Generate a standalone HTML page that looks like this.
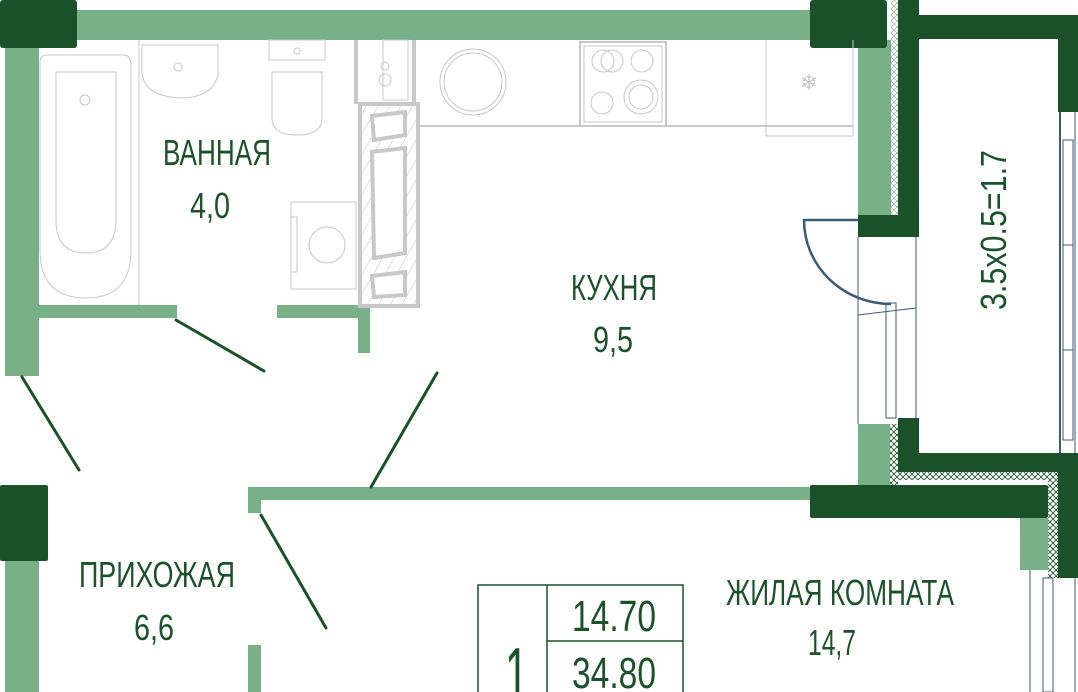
<!DOCTYPE html>
<html><head><meta charset="utf-8"><style>
html,body{margin:0;padding:0;background:#fff;}
svg{display:block;}
text{font-family:"Liberation Sans Narrow","Liberation Sans",sans-serif;fill:#1c5229;}
</style></head><body>
<svg width="1078" height="692" viewBox="0 0 1078 692" xmlns="http://www.w3.org/2000/svg">
<defs>
<pattern id="hx" width="6" height="6" patternUnits="userSpaceOnUse">
<rect width="6" height="6" fill="#fff"/>
<path d="M0,0 L6,6 M6,0 L0,6" stroke="#1b5129" stroke-width="0.8"/>
</pattern>
<pattern id="hx2" width="6" height="6" patternUnits="userSpaceOnUse">
<rect width="6" height="6" fill="#fff"/>
<path d="M0,0 L6,6 M6,0 L0,6" stroke="#8aa590" stroke-width="0.6"/>
</pattern>
<pattern id="hg" width="10" height="10" patternUnits="userSpaceOnUse" patternTransform="rotate(30)">
<rect width="10" height="10" fill="#fff"/>
<path d="M0,0 L0,10" stroke="#c8c8c8" stroke-width="1.2"/>
</pattern>
</defs>
<g fill="#78b088">
<rect x="0" y="10" width="812" height="30"/>
<rect x="5" y="40" width="34" height="336"/>
<rect x="39" y="305" width="138" height="13"/>
<rect x="277" y="305" width="93" height="13"/>
<rect x="358" y="305" width="12" height="48"/>
<rect x="5" y="561" width="34" height="131"/>
<rect x="248" y="487" width="564" height="13"/>
<rect x="248" y="487" width="13" height="26"/>
<rect x="248" y="645" width="13" height="47"/>
<rect x="858" y="40" width="35" height="178"/>
<rect x="858" y="424" width="32" height="62"/>
<rect x="1020" y="518" width="30" height="52"/>
</g>
<g>
<rect x="891" y="0" width="7" height="215" fill="url(#hx2)"/>
<rect x="890" y="424" width="8" height="62" fill="url(#hx)"/>
<rect x="898" y="472" width="160" height="8" fill="url(#hx)"/>
<rect x="1048" y="472" width="10" height="106" fill="url(#hx)"/>
</g>
<g fill="#1b5129">
<rect x="0" y="0" width="77" height="48" rx="3"/>
<rect x="810" y="0" width="77" height="48" rx="3"/>
<rect x="898" y="0" width="21" height="237"/>
<rect x="898" y="15" width="180" height="24"/>
<rect x="1058" y="15" width="20" height="97"/>
<rect x="858" y="215" width="61" height="22"/>
<rect x="898" y="418" width="21" height="54"/>
<rect x="898" y="453" width="180" height="19"/>
<rect x="1058" y="453" width="20" height="125"/>
<rect x="810" y="485" width="238" height="33" rx="2"/>
<rect x="0" y="485" width="48" height="76" rx="2"/>
</g>
<g fill="none" stroke="#3b5a78" stroke-width="1">
<line x1="858" y1="237" x2="858" y2="424"/>
<line x1="916" y1="237" x2="916" y2="418"/>
<line x1="858" y1="315" x2="916" y2="308"/>
<rect x="886" y="303" width="10" height="115"/>
<line x1="1060" y1="112" x2="1060" y2="453" stroke-width="2"/>
<line x1="1075" y1="112" x2="1075" y2="453"/>
<rect x="1063" y="140" width="10" height="300"/>
<line x1="1063" y1="245" x2="1073" y2="245"/>
<line x1="1063" y1="350" x2="1073" y2="350"/>
<line x1="1030" y1="570" x2="1030" y2="692"/>
<rect x="1043" y="578" width="10" height="114"/>
<line x1="1075" y1="578" x2="1075" y2="692"/>
</g>
<path d="M858,220 L804,220 A87,84 0 0 0 891,304" fill="none" stroke="#3b5a78" stroke-width="2.5"/>
<g stroke="#1b5129" stroke-width="3" stroke-linecap="round">
<line x1="176" y1="320" x2="264" y2="371"/>
<line x1="22" y1="377" x2="79" y2="470"/>
<line x1="437" y1="373" x2="371" y2="487"/>
<line x1="261" y1="515" x2="326" y2="628"/>
</g>
<g fill="none" stroke="#c8c8c8" stroke-width="1">
<path d="M40,62 Q40,55 48,55 L124,55 Q131,55 131,66 L131,250 Q131,298 86,298 Q40,298 40,250 Z"/>
<path d="M56,72 L116,72 L116,220 Q116,253 86,253 Q56,253 56,220 Z"/>
<circle cx="85" cy="100" r="5"/>
<line x1="139" y1="40" x2="139" y2="305"/>
<path d="M142,45 L218,45 L218,75 Q212,98 180,98 Q142,96 142,70 Z"/>
<circle cx="178" cy="67" r="4"/>
<rect x="269" y="40" width="56" height="20"/>
<path d="M272,72 L322,72 L322,118 Q322,135 297,135 Q272,135 272,118 Z"/>
<circle cx="297" cy="51" r="3"/>
<rect x="291" y="202" width="65" height="87"/>
<rect x="291" y="217" width="6" height="55"/>
<circle cx="327" cy="245" r="18"/>
<line x1="413" y1="126" x2="853" y2="126" stroke-width="2"/>
<line x1="413" y1="40" x2="413" y2="126" stroke-width="2"/>
<circle cx="473" cy="82" r="33"/><circle cx="473" cy="82" r="29"/>
<rect x="580" y="42" width="86" height="84" stroke-width="2"/>
<rect x="584" y="46" width="78" height="76"/>
<circle cx="603" cy="61" r="11"/><circle cx="612" cy="61" r="11"/>
<circle cx="642" cy="61" r="11"/><circle cx="602" cy="103" r="11"/>
<circle cx="641" cy="97" r="17"/><circle cx="641" cy="97" r="12"/>
<line x1="766" y1="40" x2="766" y2="136"/>
<line x1="853" y1="40" x2="853" y2="136"/>
<line x1="766" y1="136" x2="853" y2="136"/>
<rect x="383" y="40" width="25" height="60"/>
<circle cx="385" cy="66" r="4"/><circle cx="385" cy="80" r="6"/>
</g>
<text x="809" y="90" font-size="22" text-anchor="middle" style="fill:#c8c8c8">❄</text>
<rect x="360" y="104" width="58" height="202" fill="url(#hg)" stroke="#c8c8c8" stroke-width="4"/>
<g fill="#fff" stroke="#c8c8c8" stroke-width="4">
<path d="M372,116 L405,112 L405,135 L374,140 Z"/>
<path d="M372,152 L405,148 L405,253 L374,258 Z"/>
<path d="M372,276 L405,272 L405,295 L374,297 Z"/>
</g>
<line x1="356" y1="40" x2="356" y2="104" stroke="#c8c8c8" stroke-width="4"/>
<line x1="414" y1="40" x2="414" y2="104" stroke="#c8c8c8" stroke-width="4"/>
<g fill="none" stroke="#1b5129" stroke-width="1.5">
<rect x="478" y="585" width="205" height="110"/>
<line x1="547" y1="585" x2="547" y2="692"/>
<line x1="547" y1="641" x2="683" y2="641"/>
</g>
<text x="163" y="165" font-size="36" textLength="108" lengthAdjust="spacingAndGlyphs">ВАННАЯ</text>
<text x="190" y="218" font-size="36" textLength="40" lengthAdjust="spacingAndGlyphs">4,0</text>
<text x="571" y="300" font-size="36" textLength="86" lengthAdjust="spacingAndGlyphs">КУХНЯ</text>
<text x="593" y="352" font-size="36" textLength="40" lengthAdjust="spacingAndGlyphs">9,5</text>
<text transform="translate(1006,310) rotate(-90)" font-size="36" textLength="160" lengthAdjust="spacingAndGlyphs">3.5x0.5=1.7</text>
<text x="79" y="587" font-size="36" textLength="156" lengthAdjust="spacingAndGlyphs">ПРИХОЖАЯ</text>
<text x="134" y="640" font-size="36" textLength="40" lengthAdjust="spacingAndGlyphs">6,6</text>
<text x="726" y="605" font-size="36" textLength="228" lengthAdjust="spacingAndGlyphs">ЖИЛАЯ КОМНАТА</text>
<text x="808" y="655" font-size="36" textLength="48" lengthAdjust="spacingAndGlyphs">14,7</text>
<text x="572" y="631" font-size="44" textLength="84" lengthAdjust="spacingAndGlyphs">14.70</text>
<text x="572" y="688" font-size="44" textLength="84" lengthAdjust="spacingAndGlyphs">34.80</text>
<text transform="translate(505,700) scale(0.7,1.25)" font-size="60">1</text>
</svg>
</body></html>
